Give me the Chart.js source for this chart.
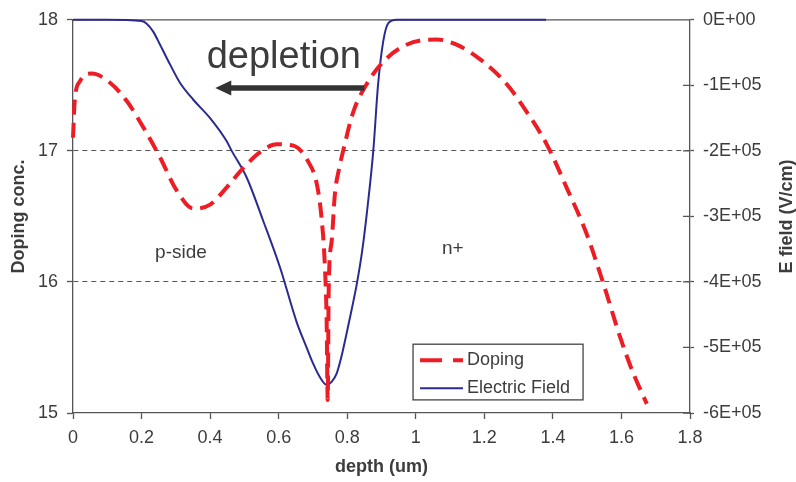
<!DOCTYPE html>
<html>
<head>
<meta charset="utf-8">
<title>Doping and electric field vs depth</title>
<script src="https://cdn.jsdelivr.net/npm/chart.js@4.4.1/dist/chart.umd.min.js"></script>
<style>
  html, body { margin: 0; padding: 0; background: #fff; }
</style>
</head>
<body>
<canvas id="profileChart" width="796" height="482"></canvas>
<script>
// Doping profile (log10 of concentration) vs depth in um
const dopingDepth = [0, 0.005, 0.02, 0.055, 0.108, 0.157, 0.205, 0.254, 0.302, 0.351, 0.4, 0.448,
  0.497, 0.546, 0.594, 0.643, 0.688, 0.711, 0.725, 0.735, 0.74, 0.743, 0.746, 0.755, 0.764,
  0.776, 0.79, 0.818, 0.857, 0.905, 0.973, 1.061, 1.119, 1.187, 1.265, 1.323, 1.382, 1.44,
  1.498, 1.547, 1.596, 1.635, 1.674];
const dopingLevel = [17.1, 17.38, 17.53, 17.59, 17.52, 17.38, 17.18, 16.95, 16.7, 16.56, 16.59, 16.72,
  16.87, 16.99, 17.05, 17.04, 16.91, 16.75, 16.49, 16.11, 15.7, 15.1, 15.95, 16.32, 16.67,
  16.86, 17.02, 17.3, 17.51, 17.68, 17.81, 17.85, 17.81, 17.7, 17.51, 17.3, 17.05, 16.72,
  16.37, 15.99, 15.58, 15.3, 15.07];

// Electric field (V/cm) vs depth in um
const fieldDepth = [0, 0.1, 0.2, 0.215, 0.234, 0.254, 0.283, 0.312, 0.351, 0.4, 0.448, 0.463,
  0.507, 0.555, 0.604, 0.653, 0.68, 0.70, 0.72, 0.74, 0.755, 0.769, 0.784, 0.798, 0.813, 0.828,
  0.843, 0.857, 0.876, 0.89, 0.905, 0.92, 0.944, 1.2, 1.38];
const fieldValue = [0, 0, -2000, -6000, -18000, -38000, -68000, -96000, -122000, -150000, -185000, -200000,
  -241000, -307000, -378000, -462000, -498000, -524000, -545000, -557000, -552000, -540000, -512000,
  -479000, -442000, -403000, -355000, -296000, -200000, -99000, -33000, -5000, 0, 0, 0];

const depthTicks = ['0', '0.2', '0.4', '0.6', '0.8', '1', '1.2', '1.4', '1.6', '1.8'];
const fieldTicks = ['-6E+05', '-5E+05', '-4E+05', '-3E+05', '-2E+05', '-1E+05', '0E+00'];

const FONT = '"Liberation Sans", Arial, sans-serif';
const AXIS = '#555';
const TEXT = '#3c3c3c';
const RED = '#ee1c24';
const BLUE = '#2b2b8f';

// frame line on top and inner half of the right-axis ticks
const frame = {
  id: 'frame',
  beforeDatasetsDraw(chart) {
    const { ctx, chartArea: a, scales } = chart;
    ctx.save();
    ctx.strokeStyle = AXIS;
    ctx.lineWidth = 1.3;
    ctx.beginPath();
    ctx.moveTo(a.left, a.top);
    ctx.lineTo(a.right, a.top);
    scales.y2.ticks.forEach(t => {
      const py = scales.y2.getPixelForValue(t.value);
      ctx.moveTo(a.right - 7, py);
      ctx.lineTo(a.right, py);
    });
    ctx.stroke();
    ctx.restore();
  }
};

// annotations, legend and axis titles
const notes = {
  id: 'notes',
  afterDraw(chart) {
    const { ctx, chartArea: a, scales: { x, y } } = chart;
    ctx.save();
    ctx.fillStyle = TEXT;
    ctx.textBaseline = 'alphabetic';

    ctx.font = '38px ' + FONT;
    ctx.textAlign = 'left';
    ctx.fillText('depletion', x.getPixelForValue(0.39), y.getPixelForValue(17.63));

    // arrow pointing toward the p-side
    const ay = y.getPixelForValue(17.48);
    const x0 = x.getPixelForValue(0.85), x1 = x.getPixelForValue(0.415);
    ctx.strokeStyle = '#333';
    ctx.fillStyle = '#333';
    ctx.lineWidth = 5.5;
    ctx.beginPath();
    ctx.moveTo(x0, ay);
    ctx.lineTo(x1 + 12, ay);
    ctx.stroke();
    ctx.beginPath();
    ctx.moveTo(x1, ay);
    ctx.lineTo(x1 + 16, ay - 7.5);
    ctx.lineTo(x1 + 16, ay + 7.5);
    ctx.closePath();
    ctx.fill();

    ctx.fillStyle = TEXT;
    ctx.font = '19px ' + FONT;
    ctx.textAlign = 'center';
    ctx.textBaseline = 'middle';
    ctx.fillText('p-side', x.getPixelForValue(0.315), y.getPixelForValue(16.22));
    ctx.fillText('n+', x.getPixelForValue(1.108), y.getPixelForValue(16.25));

    // legend box
    const lx = x.getPixelForValue(0.992), rx = x.getPixelForValue(1.488);
    const ty = y.getPixelForValue(15.525), by = y.getPixelForValue(15.1);
    ctx.fillStyle = '#fff';
    ctx.fillRect(lx, ty, rx - lx, by - ty);
    ctx.strokeStyle = '#444';
    ctx.lineWidth = 1.3;
    ctx.strokeRect(lx, ty, rx - lx, by - ty);

    const row1 = ty + 16, row2 = ty + 44;
    ctx.lineWidth = 4;
    ctx.strokeStyle = RED;
    ctx.setLineDash([22, 11]);
    ctx.beginPath();
    ctx.moveTo(lx + 7, row1);
    ctx.lineTo(lx + 50, row1);
    ctx.stroke();
    ctx.setLineDash([]);
    ctx.lineWidth = 2;
    ctx.strokeStyle = BLUE;
    ctx.beginPath();
    ctx.moveTo(lx + 7, row2);
    ctx.lineTo(lx + 50, row2);
    ctx.stroke();

    ctx.fillStyle = TEXT;
    ctx.font = '18px ' + FONT;
    ctx.textAlign = 'left';
    ctx.fillText('Doping', lx + 54, row1);
    ctx.fillText('Electric Field', lx + 54, row2);

    // axis titles
    const mid = (a.top + a.bottom) / 2;
    ctx.font = 'bold 18px ' + FONT;
    ctx.textAlign = 'center';
    ctx.fillText('depth (um)', (a.left + a.right) / 2, 467);
    ctx.translate(19, mid);
    ctx.rotate(-Math.PI / 2);
    ctx.fillText('Doping conc.', 0, 0);
    ctx.rotate(Math.PI / 2);
    ctx.translate(787 - 19, 0);
    ctx.rotate(-Math.PI / 2);
    ctx.fillText('E field (V/cm)', 0, 0);
    ctx.restore();
  }
};

const tickFont = { family: FONT, size: 18 };

new Chart(document.getElementById('profileChart'), {
  type: 'line',
  data: {
    datasets: [
      {
        label: 'Doping',
        data: dopingDepth.map((d, i) => ({ x: d, y: dopingLevel[i] })),
        yAxisID: 'y',
        borderColor: RED,
        borderWidth: 4,
        borderDash: [15, 8],
        pointRadius: 0,
        cubicInterpolationMode: 'monotone',
        clip: 6
      },
      {
        label: 'Electric Field',
        data: fieldDepth.map((d, i) => ({ x: d, y: fieldValue[i] })),
        yAxisID: 'y2',
        borderColor: BLUE,
        borderWidth: 2,
        pointRadius: 0,
        cubicInterpolationMode: 'monotone',
        clip: 6
      }
    ]
  },
  options: {
    responsive: false,
    animation: false,
    events: [],
    layout: { padding: { top: 18, left: 0, right: 0, bottom: 0 } },
    plugins: { legend: { display: false }, tooltip: { enabled: false } },
    scales: {
      x: {
        type: 'linear',
        min: 0,
        max: 1.8,
        afterFit: s => { s.height = 69; },
        afterBuildTicks: s => { s.ticks = depthTicks.map(v => ({ value: Number(v) })); },
        ticks: { callback: (v, i) => depthTicks[i], color: TEXT, font: tickFont, padding: 8, maxRotation: 0 },
        grid: { drawOnChartArea: false, tickLength: 6, tickColor: AXIS, tickWidth: 1.3 },
        border: { color: AXIS, width: 1.3 }
      },
      y: {
        position: 'left',
        min: 15,
        max: 18,
        afterFit: s => { s.width = 73; },
        ticks: { stepSize: 1, color: TEXT, font: tickFont, padding: 9 },
        grid: {
          color: c => (c.tick && (c.tick.value === 16 || c.tick.value === 17)) ? AXIS : 'rgba(0,0,0,0)',
          lineWidth: 1,
          tickLength: 6,
          tickColor: AXIS,
          tickWidth: 1.3
        },
        border: { color: AXIS, width: 1.3, dash: [5, 4] }
      },
      y2: {
        position: 'right',
        min: -600000,
        max: 0,
        afterFit: s => { s.width = 106; },
        ticks: { stepSize: 100000, callback: (v, i) => fieldTicks[i], color: TEXT, font: tickFont, padding: 9 },
        grid: { drawOnChartArea: false, tickLength: 4, tickColor: AXIS, tickWidth: 1.3 },
        border: { color: AXIS, width: 1.3 }
      }
    }
  },
  plugins: [frame, notes]
});
</script>
</body>
</html>
